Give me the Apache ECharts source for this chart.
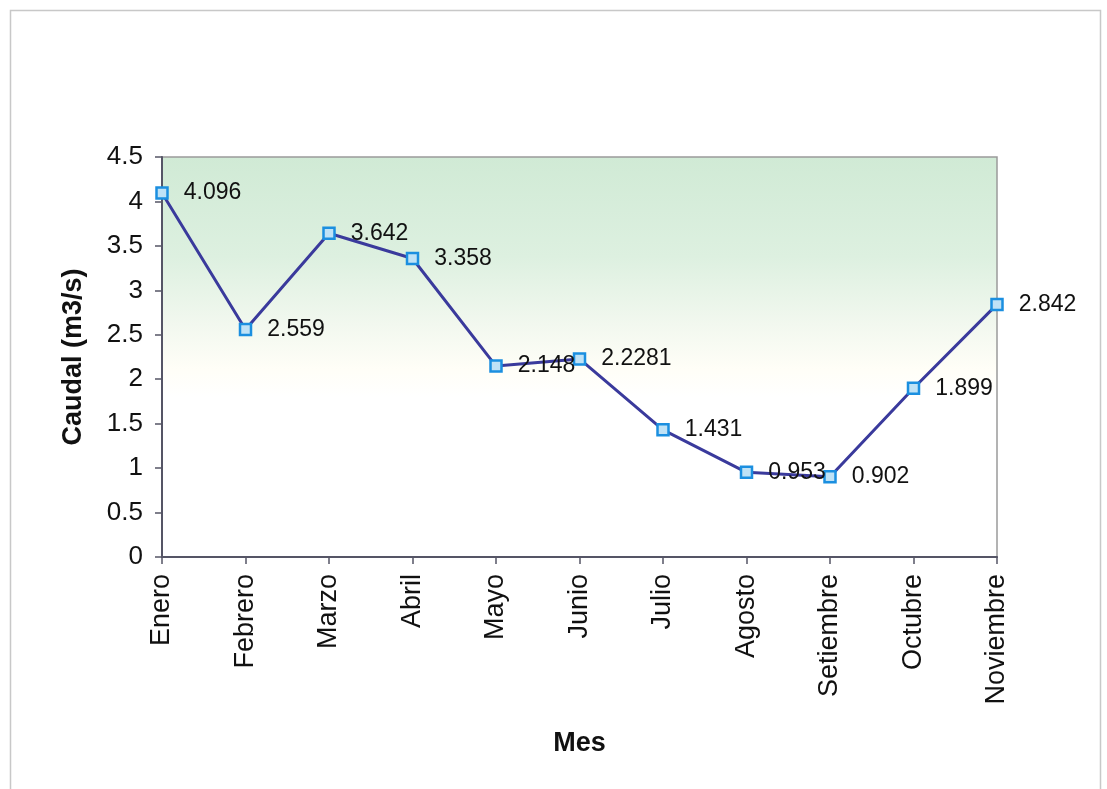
<!DOCTYPE html>
<html>
<head>
<meta charset="utf-8">
<script src="https://cdn.jsdelivr.net/npm/echarts@6/dist/echarts.min.js"></script>
<style>
  html, body { margin: 0; padding: 0; background: #ffffff; }
  #chart { width: 1107px; height: 789px; }
</style>
</head>
<body>
<div id="chart"></div>
<script>
// Caudal mensual (m3/s)
const meses = ['Enero', 'Febrero', 'Marzo', 'Abril', 'Mayo', 'Junio', 'Julio', 'Agosto', 'Setiembre', 'Octubre', 'Noviembre'];
const caudal = [4.096, 2.559, 3.642, 3.358, 2.148, 2.2281, 1.431, 0.953, 0.902, 1.899, 2.842];
const yMin = 0;
const yMax = 4.5;
const yStep = 0.5;

const chart = echarts.init(document.getElementById('chart'), null, { renderer: 'canvas' });
const font = '"Liberation Sans", Arial, sans-serif';

chart.setOption({
  backgroundColor: '#ffffff',
  animation: false,
  graphic: [{
    type: 'rect',
    shape: { x: 10.5, y: 10.5, width: 1090, height: 800 },
    style: { fill: 'none', stroke: '#c8c8c8', lineWidth: 1.5 },
    z: -10
  }],
  grid: {
    left: 162, top: 157, right: 110, bottom: 232,
    show: true,
    borderColor: '#9a9a9a',
    borderWidth: 1.5,
    backgroundColor: {
      type: 'linear', x: 0, y: 0, x2: 0, y2: 1,
      colorStops: [
        { offset: 0, color: '#d0ead5' },
        { offset: 0.25, color: '#ddf0e0' },
        { offset: 0.42, color: '#f2f8ef' },
        { offset: 0.53, color: '#fffef7' },
        { offset: 0.6, color: '#ffffff' },
        { offset: 1, color: '#ffffff' }
      ]
    }
  },
  xAxis: {
    type: 'category',
    data: meses,
    boundaryGap: false,
    name: 'Mes',
    nameLocation: 'middle',
    nameGap: 173,
    nameTextStyle: { fontFamily: font, fontSize: 27, fontWeight: 'bold', color: '#111' },
    axisLine: { lineStyle: { color: '#555566', width: 2 } },
    axisTick: { show: true, length: 7, inside: false, alignWithLabel: true, lineStyle: { color: '#555566', width: 1.5 } },
    axisLabel: { rotate: 90, margin: 17, fontFamily: font, fontSize: 27, color: '#111', interval: 0 },
    splitLine: { show: false }
  },
  yAxis: {
    type: 'value',
    min: yMin, max: yMax, interval: yStep,
    name: 'Caudal (m3/s)',
    nameLocation: 'middle',
    nameGap: 75,
    nameRotate: 90,
    nameTextStyle: { fontFamily: font, fontSize: 27, fontWeight: 'bold', color: '#111' },
    axisLine: { show: true, lineStyle: { color: '#555566', width: 2 } },
    axisTick: { show: true, length: 7, lineStyle: { color: '#555566', width: 1.5 } },
    axisLabel: { margin: 19, fontFamily: font, fontSize: 26, color: '#111' },
    splitLine: { show: false }
  },
  series: [{
    type: 'line',
    data: caudal,
    symbol: 'rect',
    symbolSize: 11,
    lineStyle: { color: '#3a3a9c', width: 3 },
    itemStyle: { color: '#bfe2f6', borderColor: '#1b8fe0', borderWidth: 2.5 },
    label: {
      show: true,
      position: 'right',
      distance: 15,
      fontFamily: font,
      fontSize: 23,
      color: '#111',
      formatter: p => String(p.value)
    },
    z: 3
  }]
});
</script>
</body>
</html>
